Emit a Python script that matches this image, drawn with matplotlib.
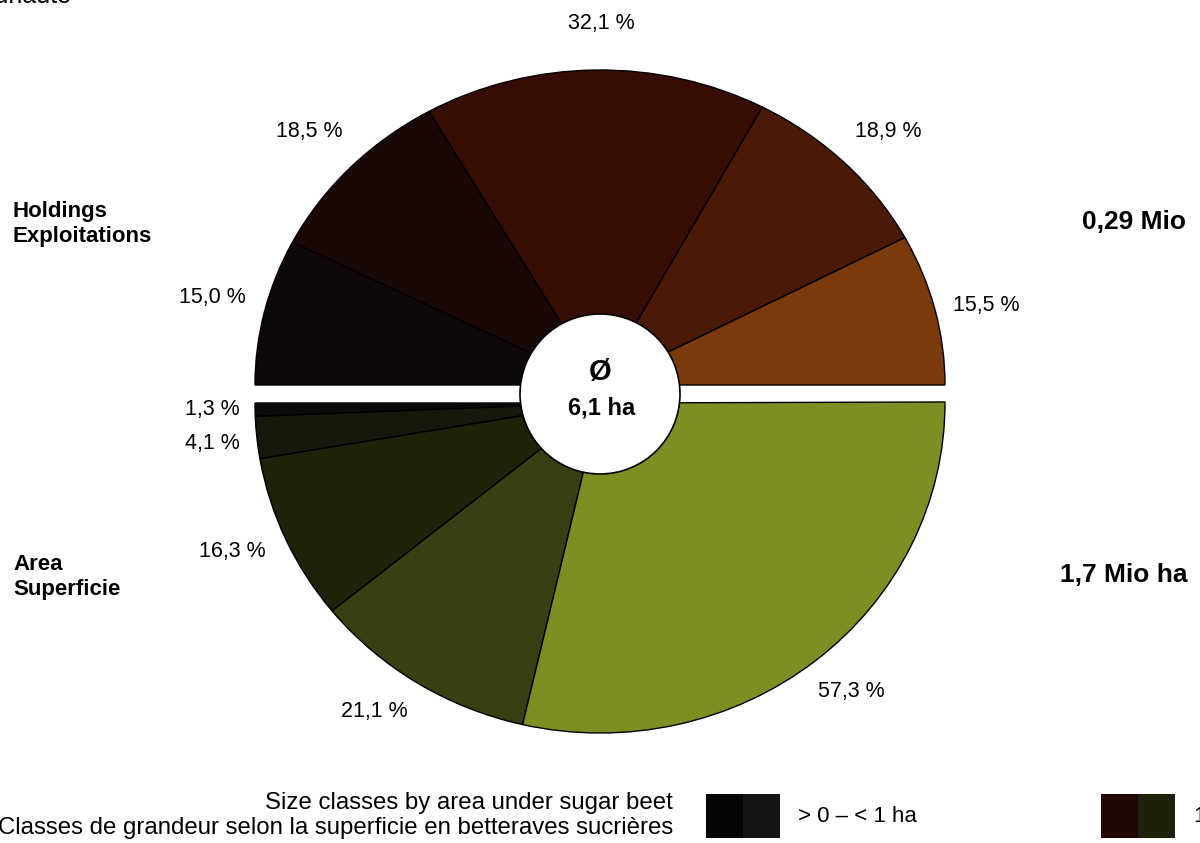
import matplotlib
matplotlib.use("Agg")
import matplotlib.pyplot as plt
from matplotlib.patches import Circle, Rectangle

plt.rcParams['font.family'] = ['Liberation Sans', 'DejaVu Sans']

# Anteile in % (von links nach rechts)
holdings = [15.0, 18.5, 32.1, 18.9, 15.5]
area = [1.3, 4.1, 16.3, 21.1, 57.3]

holdings_colors = ['#0e0709', '#190805', '#370d03', '#4a1a07', '#7a3a0c']
area_colors = ['#0a0a0a', '#15180a', '#1d2208', '#374012', '#7c8f22']

holdings_labels = ['15,0 %', '18,5 %', '32,1 %', '18,9 %', '15,5 %']
area_labels = ['1,3 %', '4,1 %', '16,3 %', '21,1 %', '57,3 %']

# Label-Positionen in Pixel (x, y von oben)
holdings_pos = [(212, 297), (309, 132), (601, 23), (888, 132), (986, 305)]
area_pos = [(212, 410), (212, 444), (232, 551), (374, 712), (851, 691)]

legend_colors = [['#050505', '#151515'], ['#1e0704', '#1d200a']]
legend_texts = ['> 0 \u2013 < 1 ha', '1']

W, H = 1200, 843
fig = plt.figure(figsize=(W / 100, H / 100), dpi=100)

cx, cy = 600, 394
rx = 345
lim = 1.2
wp = dict(edgecolor='black', linewidth=1.0)


def half_axes(ry, yc):
    # Achse so legen, dass 1 Einheit = rx px horizontal, ry px vertikal
    a = fig.add_axes([(cx - lim * rx) / W, (H - yc - lim * ry) / H,
                      2 * lim * rx / W, 2 * lim * ry / H])
    return a


# obere Haelfte: Betriebe
ax1 = half_axes(315, 385)
ax1.pie([v / 200 for v in holdings], colors=holdings_colors, startangle=180,
        counterclock=False, normalize=False, wedgeprops=wp)
# untere Haelfte: Flaeche
ax2 = half_axes(330, 403)
ax2.pie([v / 200 for v in area], colors=area_colors, startangle=180,
        counterclock=True, normalize=False, wedgeprops=wp)
for a in (ax1, ax2):
    a.set_xlim(-lim, lim)
    a.set_ylim(-lim, lim)
    a.set_aspect('auto')
    a.axis('off')

# Overlay-Achse fuer Texte in Pixelkoordinaten
ov = fig.add_axes([0, 0, 1, 1])
ov.set_xlim(0, W)
ov.set_ylim(H, 0)
ov.axis('off')

ov.add_patch(Circle((cx, cy), 80, facecolor='white', edgecolor='black', linewidth=1.2))

for lab, (x, y) in zip(holdings_labels + area_labels, holdings_pos + area_pos):
    ov.text(x, y, lab, ha='center', va='center', fontsize=15.5)

ov.text(600, 372, '\u00d8', ha='center', va='center', fontsize=21, fontweight='bold')
ov.text(602, 408, '6,1 ha', ha='center', va='center', fontsize=17, fontweight='bold')

ov.text(13, 224, 'Holdings\nExploitations', ha='left', va='center', fontsize=16,
        fontweight='bold', linespacing=1.2)
ov.text(13, 577, 'Area\nSuperficie', ha='left', va='center', fontsize=16,
        fontweight='bold', linespacing=1.2)
ov.text(1186, 222, '0,29 Mio', ha='right', va='center', fontsize=19, fontweight='bold')
ov.text(1188, 575, '1,7 Mio ha', ha='right', va='center', fontsize=19, fontweight='bold')

ov.text(72, -4, 'Communaute', ha='right', va='center', fontsize=18)

ov.text(673, 803, 'Size classes by area under sugar beet', ha='right', va='center', fontsize=17.3)
ov.text(673, 828, 'Classes de grandeur selon la superficie en betteraves sucri\u00e8res',
        ha='right', va='center', fontsize=17.3)

for (c1, c2), x0, txt in zip(legend_colors, [706, 1101], legend_texts):
    ov.add_patch(Rectangle((x0, 794), 37, 44, facecolor=c1, edgecolor='none'))
    ov.add_patch(Rectangle((x0 + 37, 794), 37, 44, facecolor=c2, edgecolor='none'))
    ov.text(x0 + 92, 817, txt, ha='left', va='center', fontsize=16)

fig.savefig('out.png', dpi=100, facecolor='white')
